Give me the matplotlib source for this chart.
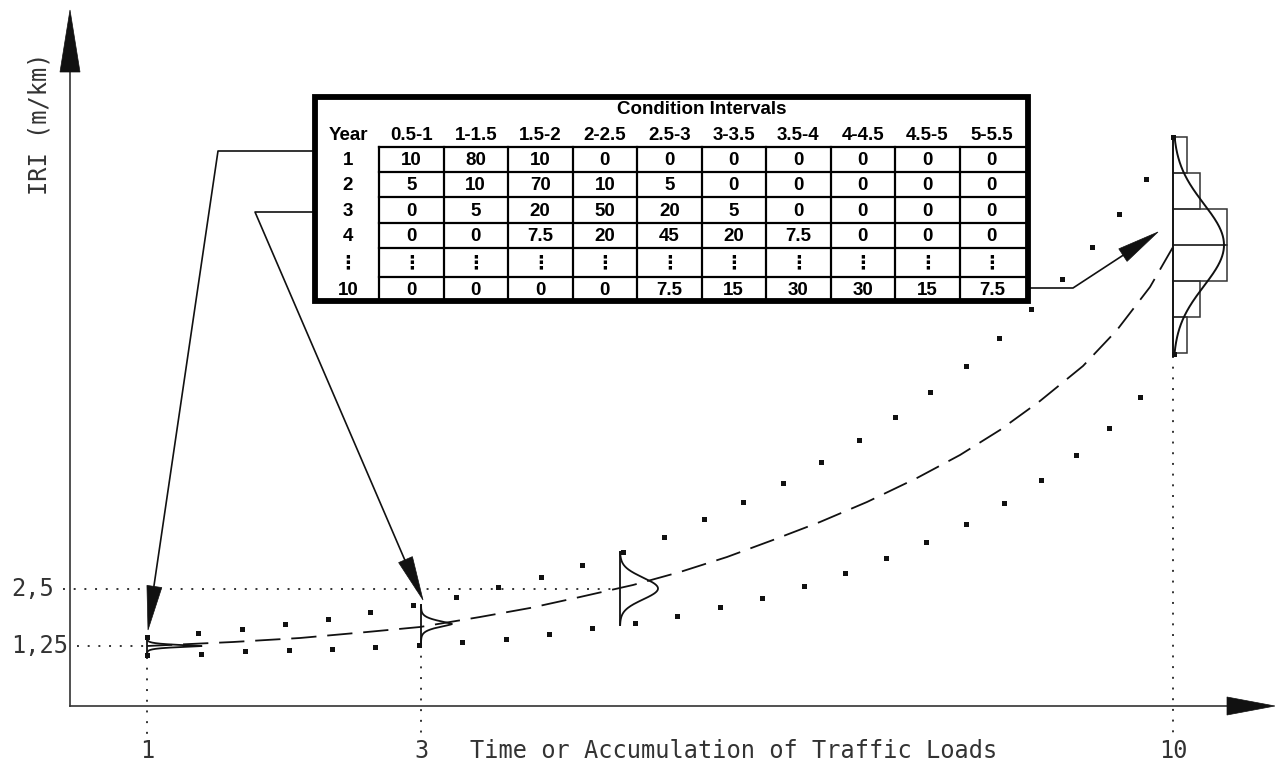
import numpy as np
import matplotlib.pyplot as plt
from matplotlib.patches import Rectangle, Polygon

# ---- table: share (%) of sections in each IRI condition interval ----
intervals = ["0.5-1", "1-1.5", "1.5-2", "2-2.5", "2.5-3",
             "3-3.5", "3.5-4", "4-4.5", "4.5-5", "5-5.5"]
year_labels = ["1", "2", "3", "4", "⋮", "10"]
shares = [
    [10, 80, 10, 0, 0, 0, 0, 0, 0, 0],
    [5, 10, 70, 10, 5, 0, 0, 0, 0, 0],
    [0, 5, 20, 50, 20, 5, 0, 0, 0, 0],
    [0, 0, 7.5, 20, 45, 20, 7.5, 0, 0, 0],
    None,
    [0, 0, 0, 0, 7.5, 15, 30, 30, 15, 7.5],
]

# ---- drawing canvas (schematic units) ----
W, H = 1275, 767
y_ticks = {"2,5": 589, "1,25": 646}
x_ticks = {"1": 147, "3": 421, "10": 1173}
x_title = "Time or Accumulation of Traffic Loads"
y_title = "IRI (m/km)"

# mean IRI trend (dashed)
mean_x = [147, 233, 300, 367, 420, 480, 530, 580, 633, 680, 727, 773, 820,
          867, 917, 960, 1000, 1040, 1083, 1117, 1150, 1173]
mean_y = [646, 642, 638, 632, 627, 617, 608, 597, 585, 572, 557, 540, 522,
          502, 478, 455, 430, 401, 366, 330, 287, 247]

# upper / lower envelope (square dots)
upper_x = [147, 198, 242, 285, 328, 370, 413, 456, 498, 541, 582, 623, 664, 704,
           743, 783, 821, 859, 895, 930, 966, 999, 1031, 1062, 1092, 1119, 1146, 1173]
upper_y = [637, 633, 629, 624, 619, 612, 605, 597, 587, 577, 565, 552, 537, 519,
           502, 483, 462, 440, 417, 392, 366, 338, 309, 279, 247, 214, 179, 137]
lower_x = [147, 201, 245, 289, 332, 375, 419, 462, 506, 549, 592, 635, 677, 720,
           762, 804, 845, 886, 926, 966, 1004, 1041, 1076, 1109, 1140, 1174]
lower_y = [655, 654, 651, 650, 649, 647, 645, 642, 639, 634, 628, 623, 616, 607,
           598, 586, 573, 558, 542, 524, 503, 480, 455, 428, 397, 354]

# distribution sketches along the trend: base x, top, bottom, peak, spread, exponent
dist_x = [147, 421, 620]
dist_top = [637, 605, 552]
dist_bot = [655, 643, 625]
dist_peak = [55, 31, 38]
dist_spread = [0.16, 0.2, 0.3]
dist_power = [1.3, 1.4, 2.0]

# year-10 histogram
hist_x = 1173
hist_top = 137
bin_h = 36
pct_scale = 1.8

ink = "#111111"
grey = "#333333"
mono = "DejaVu Sans Mono"

fig = plt.figure(figsize=(W / 100, H / 100), dpi=100)
ax = fig.add_axes([0, 0, 1, 1])
ax.set_xlim(0, W)
ax.set_ylim(H, 0)
ax.axis("off")


def head(tip, tail, length, half):
    tip = np.array(tip, float)
    d = tip - np.array(tail, float)
    d /= np.hypot(*d)
    n = np.array([-d[1], d[0]])
    base = tip - d * length
    ax.add_patch(Polygon([tip, base + n * half, base - n * half],
                         closed=True, fc=ink, ec=ink, lw=0.5, zorder=5))


def bell(t, s, p):
    return np.exp(-(np.abs(t) / s) ** p / p)


# axes with arrowheads
ax.plot([70, 70], [706, 60], color=grey, lw=1.2)
ax.plot([70, 1235], [706, 706], color=grey, lw=1.2)
head((70, 10), (70, 100), 62, 10)
head((1275, 706), (1200, 706), 48, 9)

ax.text(39, 124, y_title, rotation=90, ha="center", va="center",
        family=mono, fontsize=17, color=grey)
ax.text(470, 751, x_title, ha="left", va="center",
        family=mono, fontsize=17, color=grey)
for lab, yy in y_ticks.items():
    ax.text(11, yy, lab, ha="left", va="center", family=mono,
            fontsize=17, color=grey)
for lab, xx in x_ticks.items():
    ax.text(xx, 751, lab, ha="center", va="center", family=mono,
            fontsize=17, color=grey)

# dotted reference lines
dots = dict(color=grey, lw=1.4, linestyle=(0, (1, 4.5)))
ax.plot([63, 617], [y_ticks["2,5"]] * 2, **dots)
ax.plot([77, 147], [y_ticks["1,25"]] * 2, **dots)
ax.plot([147, 147], [657, 735], **dots)
ax.plot([421, 421], [645, 735], **dots)
ax.plot([1173, 1173], [356, 735], **dots)

# trend and envelope
ax.plot(mean_x, mean_y, color=ink, lw=1.3, linestyle=(0, (14, 6)))
ax.plot(upper_x, upper_y, "s", color=ink, ms=3.6, mew=0)
ax.plot(lower_x, lower_y, "s", color=ink, ms=3.6, mew=0)

# distribution sketches
for x0, yt, yb, pk, s, p in zip(dist_x, dist_top, dist_bot, dist_peak,
                               dist_spread, dist_power):
    yy = np.linspace(yt, yb, 200)
    t = (yy - (yt + yb) / 2) / ((yb - yt) / 2)
    ax.plot([x0, x0], [yt, yb], color=ink, lw=1.3)
    ax.plot(x0 + pk * bell(t, s, p), yy, color=ink, lw=1.3)

# year-10 histogram and fitted curve
y10 = shares[-1][4:][::-1]
for i, v in enumerate(y10):
    ax.add_patch(Rectangle((hist_x, hist_top + i * bin_h), v * pct_scale, bin_h,
                           fill=False, ec=grey, lw=1.1))
span = len(y10) * bin_h
yy = np.linspace(hist_top, hist_top + span, 300)
t = (yy - (hist_top + span / 2)) / (span / 2)
ax.plot(hist_x + max(y10) * 1.7 * bell(t, 0.38, 2.0), yy, color=ink, lw=1.4)
ax.plot([hist_x, hist_x], [hist_top, hist_top + span], color=ink, lw=1.3)

# table
col0, col_w = 379, 64.5
row_edges = [147, 172, 197, 223, 248, 277, 302]
tx0, ty0, tx1, ty1 = 314.5, 97, 1027.5, 301
bold = dict(family=["Liberation Sans", "DejaVu Sans"], fontweight="bold",
            fontsize=13.5, color="black", ha="center", va="center")

ax.add_patch(Rectangle((tx0, ty0), tx1 - tx0, ty1 - ty0, fill=False,
                       ec="black", lw=4.2, zorder=4))
ax.plot([col0, tx1], [row_edges[0]] * 2, color="black", lw=1.6)
for r in row_edges[1:-1]:
    ax.plot([col0, tx1], [r, r], color="black", lw=1.6)
for c in range(len(intervals)):
    xx = col0 + c * col_w
    ax.plot([xx, xx], [row_edges[0], ty1], color="black", lw=1.6)

ax.text(col0 + len(intervals) * col_w / 2, 110, "Condition Intervals", **bold)
ax.text(348, 135, "Year", **bold)
for c, lab in enumerate(intervals):
    ax.text(col0 + (c + 0.5) * col_w, 135, lab, **bold)
for r, (lab, vals) in enumerate(zip(year_labels, shares)):
    yc = (row_edges[r] + row_edges[r + 1]) / 2 + 1
    ax.text(348, yc, lab, **bold)
    for c in range(len(intervals)):
        txt = "⋮" if vals is None else f"{vals[c]:g}"
        ax.text(col0 + (c + 0.5) * col_w, yc, txt, **bold)

# leader arrows from table rows to the sketches
arrow = dict(color=ink, lw=1.2)
ax.plot([312, 218, 151], [151, 151, 606], **arrow)
head((148, 630), (218, 151), 44, 7.5)
ax.plot([312, 255, 413], [212, 212, 579], **arrow)
head((423, 600), (255, 212), 44, 7.5)
ax.plot([1030, 1073, 1125], [288, 288, 254], **arrow)
head((1158, 232), (1073, 288), 42, 7.5)

fig.savefig("out.png", dpi=100)
